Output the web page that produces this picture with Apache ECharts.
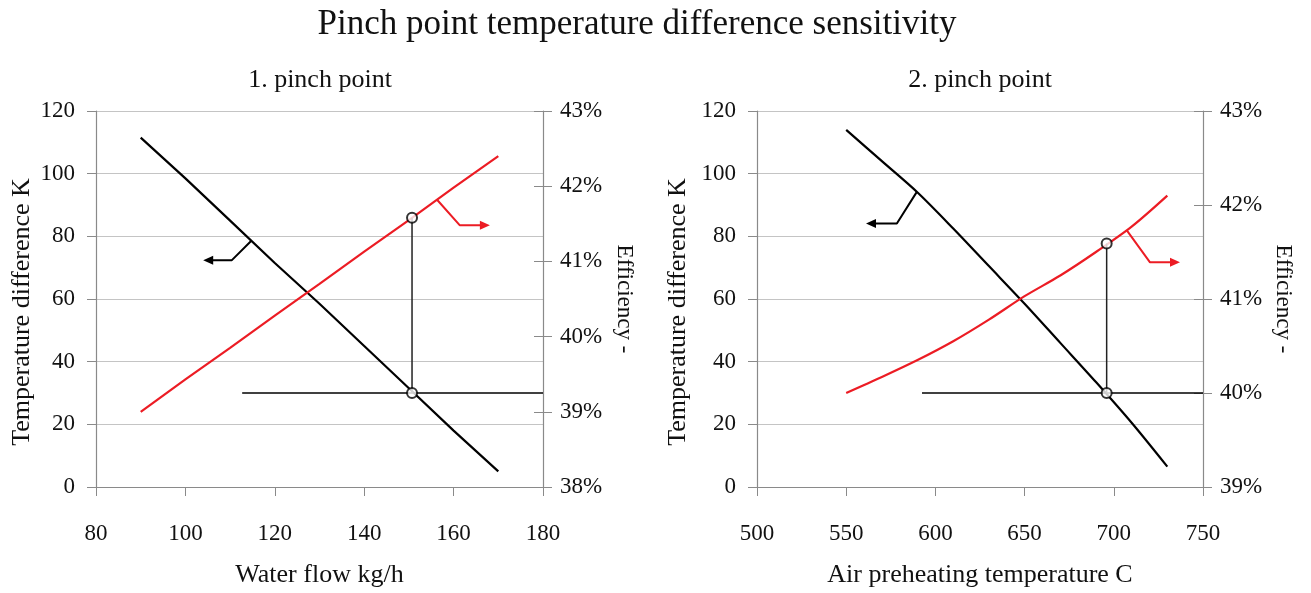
<!DOCTYPE html>
<html>
<head>
<meta charset="utf-8">
<script src="https://cdn.jsdelivr.net/npm/echarts@6/dist/echarts.min.js"></script>
<style>
  html, body { margin: 0; padding: 0; background: #fff; }
  #main { width: 1311px; height: 593px; }
</style>
</head>
<body>
<div id="main"></div>
<script>
// 1. pinch point: water flow sweep
var flow = [90, 100, 110, 120, 130, 140, 150, 160, 170];
var dT1 = [111.5, 98.5, 85, 71.5, 58.5, 45, 31.5, 18, 5];
var eff1 = [39.0, 39.43, 39.85, 40.28, 40.7, 41.13, 41.55, 41.98, 42.4];

// 2. pinch point: air preheating sweep
var airTemp = [550, 570, 590, 610, 630, 650, 670, 690, 710, 730];
var dT2 = [114, 104, 94, 82.5, 70.5, 58.5, 46, 33.5, 20.5, 6.5];
var eff2 = [40.0, 40.17, 40.35, 40.55, 40.78, 41.03, 41.25, 41.5, 41.77, 42.1];

// chosen operating points (design pinch of 30 K)
var pinchDT = 30;
var op1 = { x: 150.7, eff: 41.58, guideFrom: 112.7 };
var op2 = { x: 696, eff: 41.59, guideFrom: 592.5 };

// leader arrows pointing at the axis each curve belongs to
var arrowBlack1 = [[114.7, 78.5], [110.4, 72.4], [105.1, 72.4]];
var arrowRed1 = [[156.3, 41.82], [161.4, 41.48], [167.0, 41.48]];
var arrowBlack2 = [[589.5, 94.1], [578.4, 84.1], [563.9, 84.1]];
var arrowRed2 = [[707.3, 41.73], [720.3, 41.39], [734.3, 41.39]];

var FONT = 'Liberation Serif';
var RED = '#ec1c24';
var tMax = 120;
var effRange1 = [38, 43];
var effRange2 = [39, 43];

function zip(xs, ys) {
    return xs.map(function (x, i) { return [x, ys[i]]; });
}
function toLeft(eff, range) {
    return (eff - range[0]) / (range[1] - range[0]) * tMax;
}
function arrow(pts, color, rot, xi, yi) {
    var data = pts.map(function (p, i) {
        if (i === pts.length - 1) {
            return { value: p, symbol: 'triangle', symbolSize: [9, 10], symbolRotate: rot };
        }
        return { value: p, symbol: 'none' };
    });
    return {
        type: 'line', xAxisIndex: xi, yAxisIndex: yi, data: data,
        symbol: 'none', showSymbol: true, silent: true, z: 5,
        lineStyle: { color: color, width: 2 }, itemStyle: { color: color }
    };
}

var labelStyle = { fontFamily: FONT, fontSize: 23, color: '#111' };
var nameStyle = { fontFamily: FONT, fontSize: 26, color: '#111' };
var axisLine = { show: true, lineStyle: { color: '#8a8a8a', width: 1.2 } };
var axisTick = { show: true, length: 9, lineStyle: { color: '#8a8a8a' } };

function xAxis(idx, min, max, step, name) {
    return {
        type: 'value', gridIndex: idx, min: min, max: max, interval: step,
        name: name, nameLocation: 'middle', nameGap: 75, nameTextStyle: nameStyle,
        axisLine: axisLine, axisTick: axisTick, splitLine: { show: false },
        axisLabel: Object.assign({ margin: 35 }, labelStyle)
    };
}
function leftAxis(idx, gap) {
    return {
        type: 'value', gridIndex: idx, min: 0, max: tMax, interval: 20, position: 'left',
        name: 'Temperature difference K', nameLocation: 'middle', nameGap: gap,
        nameTextStyle: Object.assign({ padding: [0, 26, 0, 0] }, nameStyle),
        axisLine: axisLine, axisTick: axisTick,
        splitLine: { show: true, lineStyle: { color: '#c4c4c4', width: 1.2 } },
        axisLabel: Object.assign({ margin: 21 }, labelStyle)
    };
}
function rightAxis(idx, range, gap) {
    return {
        type: 'value', gridIndex: idx, min: range[0], max: range[1], interval: 1, position: 'right',
        name: 'Efficiency -', nameLocation: 'middle', nameGap: gap, nameRotate: -90,
        nameTextStyle: { fontFamily: FONT, fontSize: 23, color: '#111' },
        axisLine: axisLine, axisTick: axisTick, splitLine: { show: false },
        axisLabel: Object.assign({ margin: 17, formatter: '{value}%' }, labelStyle)
    };
}
// short inner half of the right-axis ticks (they cross the axis in the original)
function rightInnerTicks(idx, range) {
    return {
        type: 'value', gridIndex: idx, min: range[0], max: range[1], interval: 1, position: 'right',
        axisLine: { show: false }, axisLabel: { show: false }, splitLine: { show: false },
        axisTick: { show: true, inside: true, length: 9, lineStyle: { color: '#8a8a8a' } }
    };
}

var myChart = echarts.init(document.getElementById('main'));
option = {
    animation: false,
    backgroundColor: '#fff',
    title: [
        { text: 'Pinch point temperature difference sensitivity', left: 632, textAlign: 'center', top: 2,
          textStyle: { fontFamily: FONT, fontSize: 35, fontWeight: 'normal', color: '#111' } },
        { text: '1. pinch point', left: 315, textAlign: 'center', top: 62,
          textStyle: { fontFamily: FONT, fontSize: 26, fontWeight: 'normal', color: '#111' } },
        { text: '2. pinch point', left: 975, textAlign: 'center', top: 62,
          textStyle: { fontFamily: FONT, fontSize: 26, fontWeight: 'normal', color: '#111' } }
    ],
    grid: [
        { left: 96, right: 768, top: 111, bottom: 101 },
        { left: 757, right: 108, top: 111, bottom: 101 }
    ],
    xAxis: [
        xAxis(0, 80, 180, 20, 'Water flow kg/h'),
        xAxis(1, 500, 750, 50, 'Air preheating temperature C')
    ],
    yAxis: [
        leftAxis(0, 61), rightAxis(0, effRange1, 70),
        leftAxis(1, 66), rightAxis(1, effRange2, 69),
        rightInnerTicks(0, effRange1), rightInnerTicks(1, effRange2)
    ],
    series: [
        // chart 1
        { type: 'line', xAxisIndex: 0, yAxisIndex: 0, data: zip(flow, dT1), symbol: 'none',
          lineStyle: { color: '#000', width: 2.2 } },
        { type: 'line', xAxisIndex: 0, yAxisIndex: 1, data: zip(flow, eff1), symbol: 'none',
          lineStyle: { color: RED, width: 2.2 } },
        { type: 'line', xAxisIndex: 0, yAxisIndex: 0, symbol: 'none',
          data: [[op1.guideFrom, pinchDT], [180, pinchDT]], lineStyle: { color: '#000', width: 1.5 } },
        { type: 'line', xAxisIndex: 0, yAxisIndex: 0, symbol: 'none',
          data: [[op1.x, pinchDT], [op1.x, toLeft(op1.eff, effRange1)]], lineStyle: { color: '#222', width: 1.5 } },
        { type: 'scatter', xAxisIndex: 0, yAxisIndex: 0, symbol: 'emptyCircle', symbolSize: 10, z: 6,
          itemStyle: { color: '#000', borderWidth: 1.5 },
          data: [[op1.x, pinchDT], [op1.x, toLeft(op1.eff, effRange1)]] },
        arrow(arrowBlack1, '#000', 90, 0, 0),
        arrow(arrowRed1, RED, -90, 0, 1),
        // chart 2
        { type: 'line', xAxisIndex: 1, yAxisIndex: 2, data: zip(airTemp, dT2), symbol: 'none', smooth: 0.3,
          lineStyle: { color: '#000', width: 2.2 } },
        { type: 'line', xAxisIndex: 1, yAxisIndex: 3, data: zip(airTemp, eff2), symbol: 'none', smooth: 0.3,
          lineStyle: { color: RED, width: 2.2 } },
        { type: 'line', xAxisIndex: 1, yAxisIndex: 2, symbol: 'none',
          data: [[op2.guideFrom, pinchDT], [750, pinchDT]], lineStyle: { color: '#000', width: 1.5 } },
        { type: 'line', xAxisIndex: 1, yAxisIndex: 2, symbol: 'none',
          data: [[op2.x, pinchDT], [op2.x, toLeft(op2.eff, effRange2)]], lineStyle: { color: '#222', width: 1.5 } },
        { type: 'scatter', xAxisIndex: 1, yAxisIndex: 2, symbol: 'emptyCircle', symbolSize: 10, z: 6,
          itemStyle: { color: '#000', borderWidth: 1.5 },
          data: [[op2.x, pinchDT], [op2.x, toLeft(op2.eff, effRange2)]] },
        arrow(arrowBlack2, '#000', 90, 1, 2),
        arrow(arrowRed2, RED, -90, 1, 3)
    ]
};
myChart.setOption(option);
</script>
</body>
</html>
